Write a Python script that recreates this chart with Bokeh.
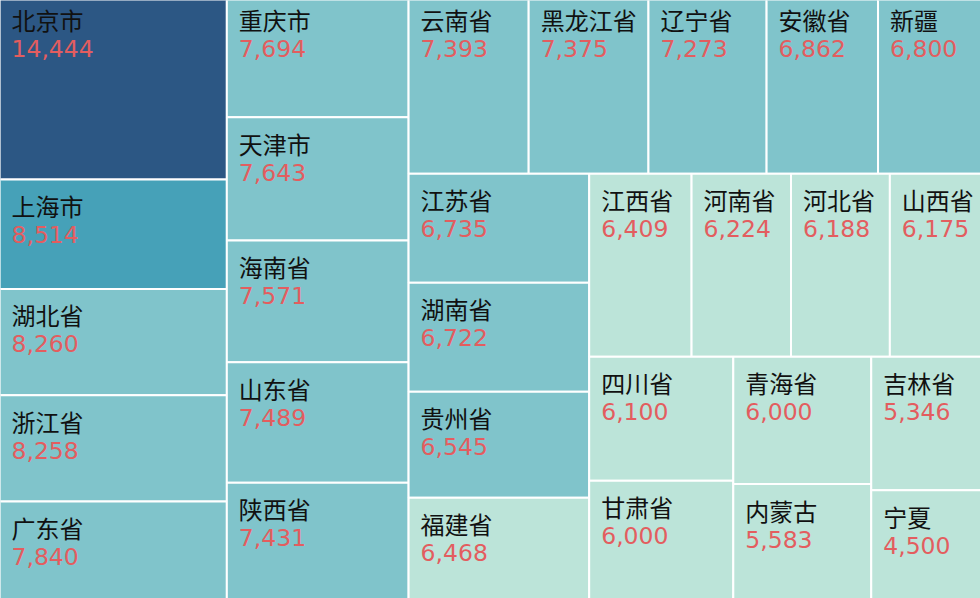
import math
from bokeh.plotting import figure
from bokeh.models import ColumnDataSource, Range1d
from bokeh.core.properties import value
from bokeh.embed import file_html
from bokeh.resources import INLINE

# provinces, in the order of the source data (ties keep this order)
names = ["北京市", "上海市", "湖北省", "浙江省", "广东省", "重庆市", "天津市",
         "海南省", "山东省", "陕西省", "云南省", "黑龙江省", "辽宁省", "安徽省",
         "新疆", "江苏省", "湖南省", "贵州省", "福建省", "江西省", "河南省",
         "河北省", "山西省", "四川省", "甘肃省", "青海省", "内蒙古", "吉林省",
         "宁夏"]
values = [14444, 8514, 8260, 8258, 7840, 7694, 7643,
          7571, 7489, 7431, 7393, 7375, 7273, 6862,
          6800, 6735, 6722, 6545, 6468, 6409, 6224,
          6188, 6175, 6100, 6000, 6000, 5583, 5346,
          4500]

# piecewise colour mapping on value
piece_breaks = [6500, 8500, 10000]
piece_colors = ["#bce4d9", "#80c4cb", "#46a1b8", "#2c5784"]

W, H = 980, 598
SQUARE_RATIO = 0.5 * (1 + math.sqrt(5))
# area the treemap is laid out in (it runs a little past the top and right of the view)
LAYOUT = (-1, -7, 989, 609)


def worst(areas, fixed, ratio):
    s = sum(areas)
    sq = s * s
    f = fixed * fixed * ratio
    return max(f * max(areas) / sq, sq / (f * min(areas)))


def position(row, fixed, rect, flush, out):
    x, y, w, h = rect
    along_x = fixed == w
    area = sum(a for _, a in row)
    thick = area / fixed if fixed else 0
    other = h if along_x else w
    if flush or thick > other:
        thick = other
    last = x if along_x else y
    end = (x + w) if along_x else (y + h)
    for i, (idx, a) in enumerate(row):
        step = a / thick if thick else 0
        remain = end - last
        length = remain if (i == len(row) - 1 or remain < step) else step
        if along_x:
            out[idx] = (last, y, length, thick)
        else:
            out[idx] = (x, last, thick, length)
        last += length
    if along_x:
        return (x, y + thick, w, h - thick)
    return (x + thick, y, w - thick, h)


def squarify(vals, rect):
    order = sorted(range(len(vals)), key=lambda i: -vals[i])
    scale = rect[2] * rect[3] / sum(vals)
    out = [None] * len(vals)
    fixed = min(rect[2], rect[3])
    row, score = [], math.inf
    i = 0
    while i < len(order):
        idx = order[i]
        row.append((idx, vals[idx] * scale))
        s2 = worst([a for _, a in row], fixed, SQUARE_RATIO)
        if s2 <= score:
            i += 1
            score = s2
        else:
            row.pop()
            rect = position(row, fixed, rect, False, out)
            fixed = min(rect[2], rect[3])
            row, score = [], math.inf
    if row:
        position(row, fixed, rect, True, out)
    return out


def color_for(v):
    k = sum(1 for b in piece_breaks if v >= b)
    return piece_colors[k]


rects = squarify(values, LAYOUT)

src = ColumnDataSource(dict(
    left=[r[0] for r in rects],
    right=[r[0] + r[2] for r in rects],
    top=[r[1] for r in rects],
    bottom=[r[1] + r[3] for r in rects],
    color=[color_for(v) for v in values],
    name=names,
    label=["{:,}".format(v) for v in values],
    tx=[r[0] + 12 for r in rects],
    ny=[r[1] + 26 for r in rects],
    vy=[r[1] + 55 for r in rects],
))

p = figure(width=W, height=H, x_range=Range1d(0, W), y_range=Range1d(H, 0),
           output_backend="svg", toolbar_location=None, min_border=0)
p.axis.visible = False
p.grid.visible = False
p.outline_line_color = None
p.background_fill_color = "white"
p.border_fill_color = "white"

p.quad(left="left", right="right", top="top", bottom="bottom", source=src,
       fill_color="color", line_color="white", line_width=2)

p.text(x="tx", y="ny", text="name", source=src,
       text_font=value("Noto Sans CJK SC"), text_font_size="24px",
       text_color="#111111", text_baseline="alphabetic")
p.text(x="tx", y="vy", text="label", source=src,
       text_font=value("DejaVu Sans"), text_font_size="23.5px",
       text_color="#e35d5f", text_baseline="alphabetic")

open("out.html", "w").write(file_html(p, INLINE))
